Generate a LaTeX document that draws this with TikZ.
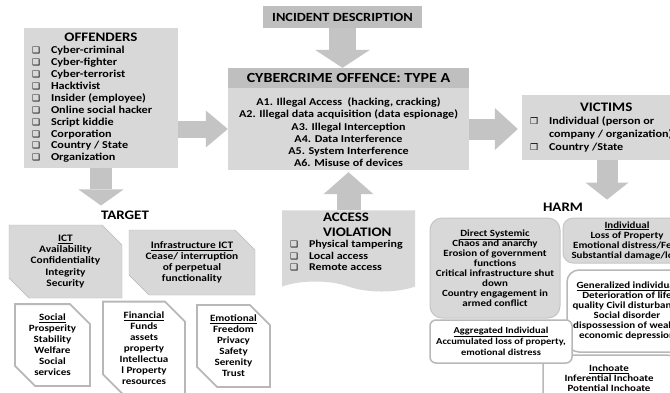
\documentclass[tikz,border=0pt]{standalone}
\usepackage{fontspec}
\setmainfont{Carlito}[FakeStretch=1.15]
\newfontfamily\symfont{DejaVu Sans}
\usetikzlibrary{arrows.meta,positioning,shapes.misc,shapes.symbols,calc}
\setlength{\parindent}{0pt}

\definecolor{boxgray}{HTML}{D8D8D8}
\definecolor{hdrgray}{HTML}{BFBFBF}
\definecolor{arrowgray}{HTML}{C4C4C4}
\definecolor{edgegray}{HTML}{B8B8B8}

\newcommand{\cbx}{\makebox[19pt][l]{\symfont\fontsize{9}{9}\selectfont ❑}}
\newcommand{\cbxv}{\makebox[19pt][l]{\symfont\fontsize{9}{9}\selectfont ❒}}
\newcommand{\ttl}{\fontsize{13}{15}\selectfont}

\tikzset{
  graybox/.style={fill=boxgray, inner sep=0pt, align=center, font=\bfseries\fontsize{10.5}{12.2}\selectfont},
  headbox/.style={fill=hdrgray, inner sep=0pt, font=\bfseries\fontsize{13}{13}\selectfont},
  listbox/.style={fill=boxgray, inner xsep=8pt, inner ysep=2pt, align=flush left, font=\bfseries\fontsize{10.6}{11.9}\selectfont},
  titlelbl/.style={font=\bfseries\fontsize{13}{13}\selectfont, inner sep=1pt},
  snipbox/.style={chamfered rectangle, chamfered rectangle corners={north east,south west},
    chamfered rectangle xsep=10pt, chamfered rectangle ysep=10pt, inner sep=0pt, align=center,
    font=\bfseries\fontsize{9.9}{11.2}\selectfont},
  ictbox/.style={snipbox, fill=boxgray, draw=edgegray},
  valuebox/.style={snipbox, fill=white, draw=edgegray, line width=1.8pt, font=\bfseries\fontsize{9.6}{11}\selectfont},
  harmbox/.style={rounded corners=#1, inner sep=0pt, align=center,
    font={\bfseries\fontsize{9.5}{10}\selectfont\lineskiplimit=-4pt}},
  harmgray/.style={harmbox=#1, fill=boxgray, draw=edgegray!80, line width=1pt},
  harmwhite/.style={harmbox=#1, fill=white, draw=edgegray, line width=1.5pt},
  blockarrow/.style n args={3}{draw=arrowgray, line width=#1,
    -{Triangle[width=#2, length=#3, line width=0pt]}},
}

\begin{document}
\begin{tikzpicture}[x=1pt, y=-1pt]
  \useasboundingbox (0,0) rectangle (670,392);
  \clip (0,0) rectangle (670,392);
  \fill[white] (0,0) rectangle (670,392);

  % Offence
  \node[headbox, minimum width=159pt, minimum height=22pt, font=\bfseries\fontsize{12.5}{13}\selectfont] (incident) at (342.5,17) {INCIDENT DESCRIPTION};
  \node[headbox, minimum width=241pt, minimum height=20pt, font=\bfseries\fontsize{13.9}{14}\selectfont] (cyberhead) at (348.5,78) {CYBERCRIME OFFENCE: TYPE A};
  \node[graybox, minimum width=241pt, minimum height=82pt] (cyberbody) at (348.5,129) {%
    \rule{0pt}{14.5pt}A1. Illegal Access\ \ (hacking, cracking)\\
    A2. Illegal data acquisition (data espionage)\\
    A3. Illegal Interception\\
    A4. Data Interference\\
    A5. System Interference\\
    A6. Misuse of devices};

  % Offenders
  \node[listbox, text width=138pt, minimum height=140pt] (offenders) at (101,98) {%
    \hfill{\ttl OFFENDERS}\hfill\null\\
    \cbx Cyber-criminal\\
    \cbx Cyber-fighter\\
    \cbx Cyber-terrorist\\
    \cbx Hacktivist\\
    \cbx Insider (employee)\\
    \cbx Online social hacker\\
    \cbx Script kiddie\\
    \cbx Corporation\\
    \cbx Country / State\\
    \cbx Organization};

  % Access violation
  \node[tape, tape bend top=none, tape bend bottom=out and in, tape bend height=10pt,
    fill=boxgray, text width=117pt, inner xsep=8pt, inner ysep=2pt, minimum height=74pt,
    align=flush left, font=\bfseries\fontsize{10.4}{11.5}\selectfont] (access) at (348.5,246) {%
    {\ttl\hspace*{33pt}ACCESS\\\hspace*{33pt}VIOLATION\par}
    \cbx Physical tampering\\
    \cbx Local access\\
    \cbx Remote access\rule[-9pt]{0pt}{9pt}};

  % Victims
  \node[listbox, text width=200pt, minimum height=65pt, font=\bfseries\fontsize{10.6}{13}\selectfont] (victims) at (630,127.5) {%
    \hspace*{50pt}{\ttl VICTIMS}\\
    \cbxv Individual (person or\\
    \hspace*{19pt}company / organization)\\
    \cbxv Country /State};

  % Target
  \node[titlelbl] (target) at (125,215) {TARGET};
  \node[ictbox, minimum width=113pt, minimum height=73pt] (ict) at (65.5,261.5) {%
    \underline{ICT}\\Availability\\Confidentiality\\Integrity\\Security};
  \node[ictbox, minimum width=126pt, minimum height=65pt] (infra) at (192,262.5) {%
    \underline{Infrastructure ICT}\\Cease/ interruption\\of perpetual\\functionality};
  \node[valuebox, minimum width=75pt, minimum height=76pt] (social) at (52.5,345) {%
    \underline{Social}\\Prosperity\\Stability\\Welfare\\Social\\services};
  \node[valuebox, minimum width=82pt, minimum height=82pt] (financial) at (144,348) {%
    \underline{Financial}\\Funds\\assets\\property\\Intellectua\\l Property\\resources};
  \node[valuebox, minimum width=73pt, minimum height=78pt] (emotional) at (233.5,346) {%
    \underline{Emotional}\\Freedom\\Privacy\\Safety\\Serenity\\Trust};

  % Harm
  \node[titlelbl] (harm) at (563,207) {HARM};
  \node[harmwhite=12pt, minimum width=120pt, minimum height=82pt] (generalized) at (627,311) {%
    \underline{Generalized individual}\\Deterioration of life\\quality Civil disturbance\\Social disorder\\dispossession of wealth\\economic depression};
  \node[harmwhite=8pt, minimum width=132pt, minimum height=46pt] (inchoate) at (609,378) {%
    \underline{Inchoate}\\Inferential Inchoate\\Potential Inchoate};
  \node[harmgray=12pt, minimum width=130pt, minimum height=100pt] (direct) at (495,268) {%
    \underline{Direct Systemic}\\Chaos and anarchy\\Erosion of government\\functions\\Critical infrastructure shut\\down\\Country engagement in\\armed conflict};
  \node[harmgray=10pt, minimum width=128pt, minimum height=45pt] (individual) at (627,240.5) {%
    \underline{Individual}\\Loss of Property\\Emotional distress/Fear\\Substantial damage/loss};
  \node[harmwhite=6pt, minimum width=142pt, minimum height=43pt, font={\bfseries\fontsize{9.1}{11}\selectfont}] (aggregated) at (501,341.5) {%
    \underline{Aggregated Individual}\\Accumulated loss of property,\\emotional distress};

  % Arrows
  \draw[blockarrow={27pt}{55pt}{18pt}] (incident.south) -- (incident.south |- cyberhead.north);
  \draw[blockarrow={17pt}{37pt}{22pt}] (offenders.east |- cyberbody.west) -- (cyberbody.west);
  \draw[blockarrow={21pt}{42pt}{23pt}, shorten >=4pt] (cyberbody.east) -- (victims.west |- cyberbody.east);
  \draw[blockarrow={24pt}{50pt}{22pt}, shorten >=2pt] (access.north) -- (cyberbody.south);
  \draw[blockarrow={22pt}{45pt}{16pt}, shorten >=4pt] (offenders.south) -- (offenders.south |- target.north);
  \draw[blockarrow={21pt}{43pt}{17pt}, shorten >=2pt] (victims.south -| 607,0) -- (607,0 |- harm.north);
\end{tikzpicture}
\end{document}
